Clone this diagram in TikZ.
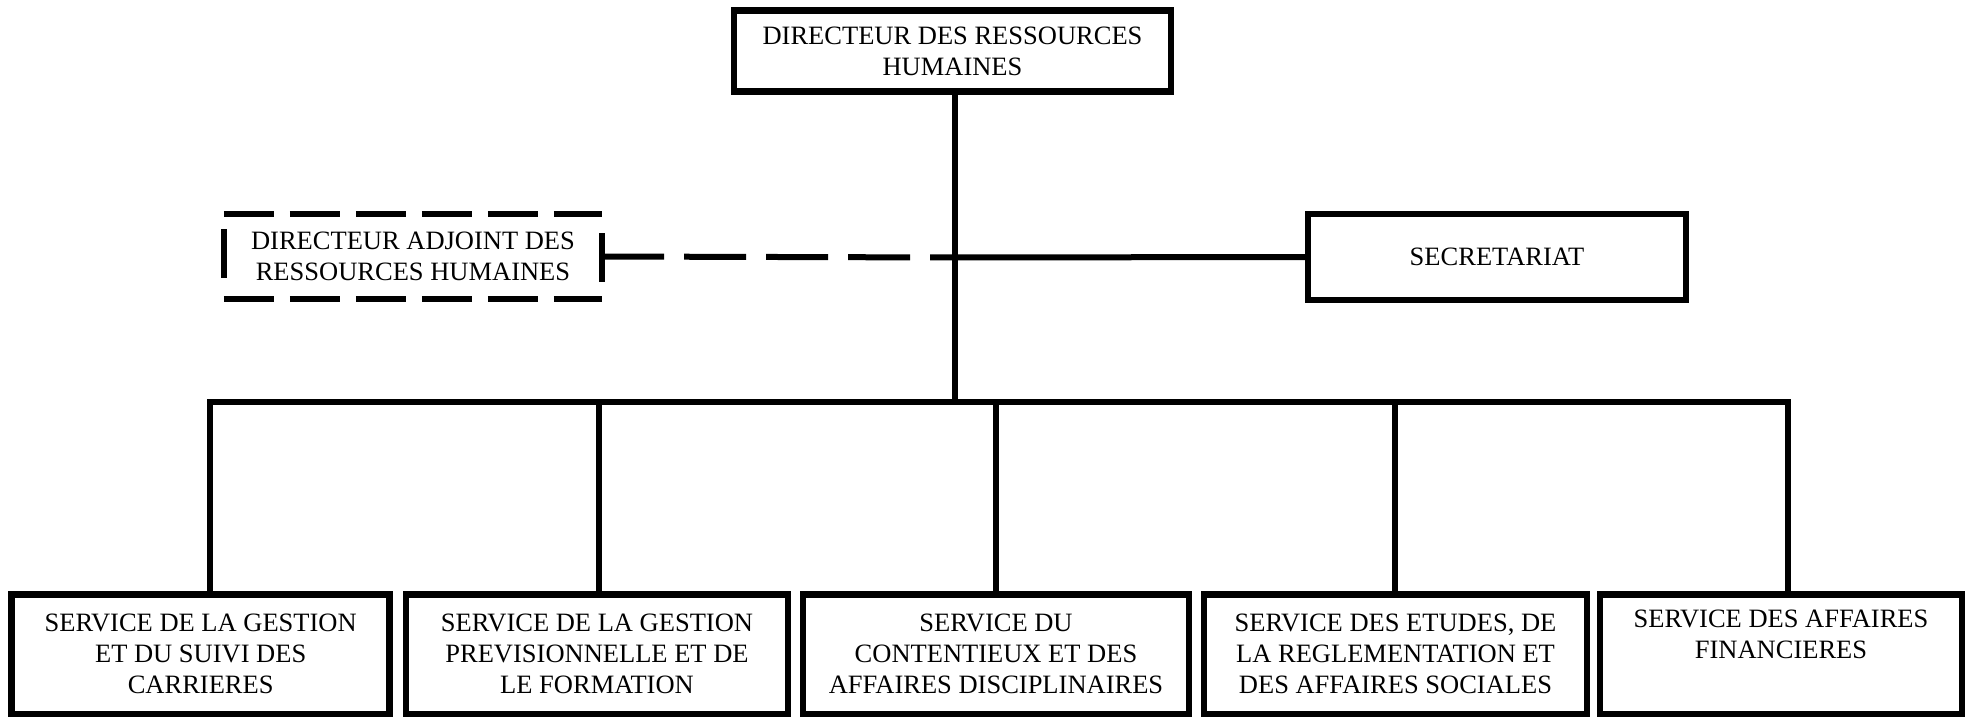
\documentclass[tikz,border=0pt]{standalone}
\usepackage{fontspec}
\setmainfont{Liberation Serif}
\begin{document}
\begin{tikzpicture}[x=1pt,y=-1pt,
  every node/.style={font=\fontsize{26.5}{31}\selectfont, align=center, inner sep=0pt},
  box/.style={draw, line width=6.5pt, rectangle},
  conn/.style={line width=6pt},
  dconn/.style={line width=6pt, dash pattern=on 62pt off 20pt},
  dedge/.style={line width=6pt, dash pattern=on 50pt off 16pt}]
\useasboundingbox (0,0) rectangle (1970,717);
% top
\node[box, minimum width=437pt, minimum height=81pt] (top) at (952.5,51) {DIRECTEUR DES RESSOURCES\\HUMAINES};
% dashed box
\node[minimum width=378pt, minimum height=85pt] (dab) at (413,256.5) {DIRECTEUR ADJOINT DES\\RESSOURCES HUMAINES};
\draw[dedge] (dab.north west) -- (dab.north east);
\draw[dedge] (dab.south west) -- (dab.south east);
\coordinate (dl1) at (223.7,229); \coordinate (dl2) at (223.7,278);
\coordinate (dr1) at (602,233); \coordinate (dr2) at (602,282);
\draw[conn] (dl1) -- (dl2);
\draw[conn] (dr1) -- (dr2);
% secretariat
\node[box, minimum width=378pt, minimum height=86pt] (sec) at (1497,257) {SECRETARIAT};
% bottom boxes
\node[box, minimum width=378pt, minimum height=119.5pt] (n1) at (200.7,654.3) {SERVICE DE LA GESTION\\ET DU SUIVI DES\\CARRIERES};
\node[box, minimum width=382pt, minimum height=119.5pt] (n2) at (597,654.3) {SERVICE DE LA GESTION\\PREVISIONNELLE ET DE\\LE FORMATION};
\node[box, minimum width=386pt, minimum height=119.5pt] (n3) at (996,654.3) {SERVICE DU\\CONTENTIEUX ET DES\\AFFAIRES DISCIPLINAIRES};
\node[box, minimum width=383pt, minimum height=119.5pt] (n4) at (1395.5,654.3) {SERVICE DES ETUDES, DE\\LA REGLEMENTATION ET\\DES AFFAIRES SOCIALES};
\node[box, minimum width=362pt, minimum height=119.5pt] (n5) at (1781,654.3) {SERVICE DES AFFAIRES\\FINANCIERES\\\strut};
% connectors
\coordinate (j0) at (954.5,402);
\coordinate (jm) at (954.5,257.5);
\coordinate (j1) at (209.7,402);
\coordinate (j2) at (599,402);
\coordinate (j3) at (996,402);
\coordinate (j4) at (1395,402);
\coordinate (j5) at (1788.4,402);
\draw[conn] (top.south -| j0) -- (j0);
\draw[conn] (jm) -- (sec.west);
\draw[dconn] (dab.east) -- (jm);
\draw[conn, line join=miter] (j1 |- n1.north) -- (j1) -- (j5) -- (j5 |- n5.north);
\draw[conn] (j2) -- (j2 |- n2.north);
\draw[conn] (j3) -- (j3 |- n3.north);
\draw[conn] (j4) -- (j4 |- n4.north);
\end{tikzpicture}
\end{document}
